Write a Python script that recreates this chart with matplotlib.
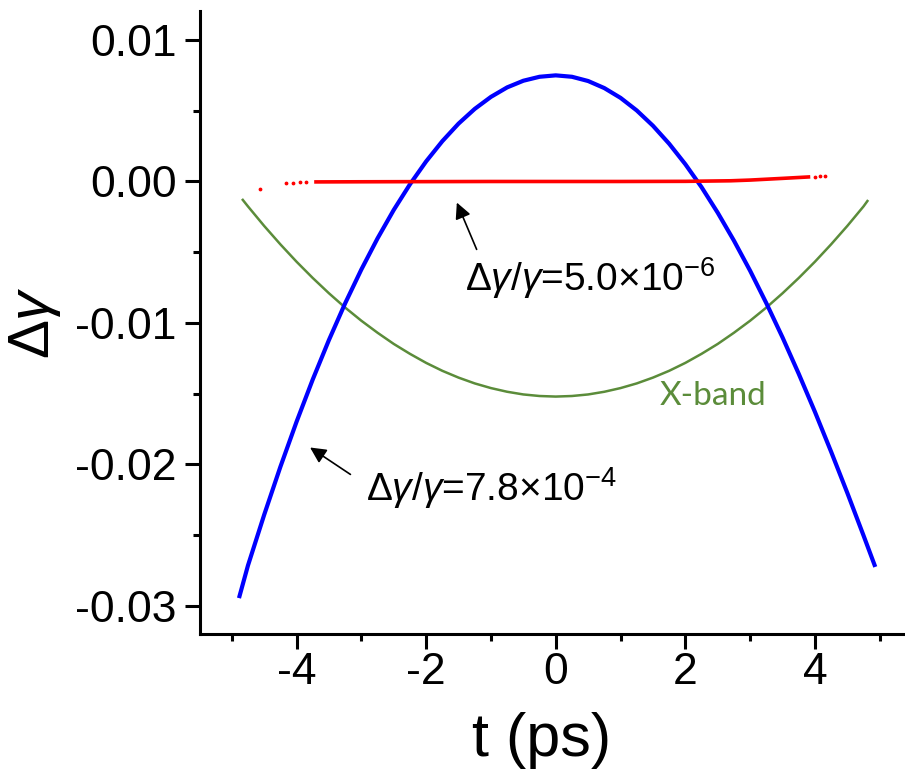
import matplotlib
matplotlib.use('Agg')
import matplotlib.pyplot as plt
import matplotlib.ticker as mticker

plt.rcParams['font.family'] = 'Liberation Sans'
plt.rcParams['mathtext.fontset'] = 'custom'
plt.rcParams['mathtext.rm'] = 'Liberation Sans'
plt.rcParams['mathtext.it'] = 'Liberation Sans:italic'
plt.rcParams['axes.unicode_minus'] = False

# blue: energy chirp before compensation
blue_t = [-4.88, -4.75, -4.5, -4.25, -4.0, -3.75, -3.5, -3.25, -3.0, -2.75,
          -2.5, -2.25, -2.0, -1.75, -1.5, -1.25, -1.0, -0.75, -0.5, -0.25,
          0.0, 0.25, 0.5, 0.75, 1.0, 1.25, 1.5, 1.75, 2.0, 2.25, 2.5, 2.75,
          3.0, 3.25, 3.5, 3.75, 4.0, 4.25, 4.5, 4.75, 4.92]
blue_dg = [-0.0293, -0.02714, -0.02356, -0.02017, -0.01698, -0.01399, -0.0112,
           -0.00861, -0.00622, -0.00402, -0.00201, -0.0002, 0.00142, 0.00285,
           0.00409, 0.00513, 0.00598, 0.00665, 0.00712, 0.0074,
           0.0075, 0.0074, 0.0071, 0.0066, 0.00591, 0.00502, 0.00394, 0.00267,
           0.00122, -0.0004, -0.00221, -0.00418, -0.00631, -0.0086, -0.01102,
           -0.01359, -0.01628, -0.0191, -0.02201, -0.02502, -0.0271]

# green: X-band correction
green_t = [-4.83, -4.75, -4.5, -4.25, -4.0, -3.75, -3.5, -3.25, -3.0, -2.75,
           -2.5, -2.25, -2.0, -1.75, -1.5, -1.25, -1.0, -0.75, -0.5, -0.25,
           0.0, 0.25, 0.5, 0.75, 1.0, 1.25, 1.5, 1.75, 2.0, 2.25, 2.5, 2.75,
           3.0, 3.25, 3.5, 3.75, 4.0, 4.25, 4.5, 4.75, 4.81]
green_dg = [-0.0013, -0.00176, -0.00314, -0.00444, -0.00567, -0.00682,
            -0.0079, -0.00891, -0.00984, -0.01069, -0.01148, -0.01218,
            -0.01282, -0.01338, -0.01386, -0.01427, -0.0146, -0.01486,
            -0.01505, -0.01516, -0.0152, -0.01516, -0.01505, -0.01486,
            -0.0146, -0.01427, -0.01386, -0.01338, -0.01282, -0.01218,
            -0.01148, -0.01069, -0.00984, -0.00891, -0.0079, -0.00682,
            -0.00567, -0.00444, -0.00314, -0.00176, -0.00138]

# red: compensated beam
red_t = [-3.7, -3.0, -2.0, -1.0, 0.0, 1.0, 2.0, 2.7, 3.0, 3.5, 3.9]
red_dg = [-0.00003, -0.00002, -0.00001, 0.0, 0.0, 0.0, 0.00001, 0.00005,
          0.0001, 0.00022, 0.00032]
red_tail_t = [-4.57, -4.17, -4.05, -3.95, -3.85, 4.0, 4.08, 4.15]
red_tail_dg = [-0.00053, -0.0001, -0.00008, -0.00005, -0.00004, 0.00034,
               0.00038, 0.0004]

xticks = [-4, -2, 0, 2, 4]
yticks = [0.01, 0.0, -0.01, -0.02, -0.03]

green_col = '#5b8c3a'

fig = plt.figure(figsize=(9.05, 7.73), dpi=100)
ax = fig.add_axes([0.221, 0.1798, 0.779, 0.806])

ax.plot(green_t, green_dg, color=green_col, lw=1.8, zorder=2)
ax.plot(blue_t, blue_dg, color='#0000ff', lw=3.0, zorder=3)
ax.plot(red_t, red_dg, color='#ff0000', lw=2.6, zorder=4)
ax.scatter(red_tail_t, red_tail_dg, color='#ff0000', s=3, zorder=4)

ax.set_xlim(-5.49, 5.39)
ax.set_ylim(-0.03198, 0.01205)

ax.spines['top'].set_visible(False)
ax.spines['right'].set_visible(False)
for s in ['left', 'bottom']:
    ax.spines[s].set_linewidth(2.2)

ax.set_xticks(xticks)
ax.set_yticks(yticks)
ax.xaxis.set_minor_locator(mticker.MultipleLocator(1))
ax.yaxis.set_minor_locator(mticker.MultipleLocator(0.005))
ax.yaxis.set_major_formatter(mticker.FormatStrFormatter('%.2f'))
ax.xaxis.set_major_formatter(mticker.FormatStrFormatter('%d'))
ax.tick_params(which='major', direction='out', length=11, width=2.2,
               labelsize=32)
ax.tick_params(axis='y', which='major', pad=6)
ax.tick_params(axis='x', which='major', pad=2)
ax.tick_params(which='minor', direction='out', length=5, width=2.2)

ax.set_xlabel('t (ps)', fontsize=44)
ax.xaxis.set_label_coords(0.484, -0.125)
ax.set_ylabel(r'$\Delta\gamma$', fontsize=42)
ax.yaxis.set_label_coords(-0.194, 0.5)

arrow = dict(arrowstyle='-|>', color='black', lw=1.2, mutation_scale=24)
ax.annotate('', xy=(-1.543, -0.00131), xytext=(-1.204, -0.00498),
            arrowprops=arrow)
ax.annotate('', xy=(-3.827, -0.01869), xytext=(-3.133, -0.02081),
            arrowprops=arrow)

ax.text(-1.40, -0.00774, r'$\Delta\gamma/\gamma$=5.0×10$^{-6}$',
        fontsize=28, va='baseline', ha='left')
ax.text(-2.93, -0.02258, r'$\Delta\gamma/\gamma$=7.8×10$^{-4}$',
        fontsize=28, va='baseline', ha='left')
ax.text(1.605, -0.0158, 'X-band', fontsize=24, color=green_col,
        family='Lato', va='baseline', ha='left')

plt.savefig('out.png', dpi=100)
plt.close()
